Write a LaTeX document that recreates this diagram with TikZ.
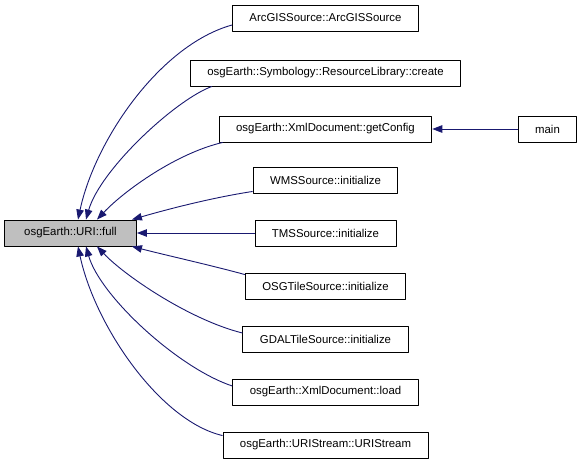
\documentclass[tikz,border=0pt]{standalone}
\usepackage{fontspec}
\setmainfont{Liberation Sans}
\usetikzlibrary{arrows.meta, calc}
\definecolor{edgeblue}{HTML}{191970}
\definecolor{hilite}{HTML}{BFBFBF}

\begin{document}
\begin{tikzpicture}[x=1pt, y=-1pt, line join=round,
  fnode/.style={draw=black, fill=white, line width=0.9pt, minimum height=26pt,
    inner xsep=17pt, inner ysep=0pt, font=\fontsize{11.4}{13}\selectfont},
  calls/.style={draw=edgeblue, line width=0.9pt, -{Triangle[length=10pt, width=7.5pt]}}]
  \useasboundingbox (0,0) rectangle (584,467);

  % Function under study
  \node[fnode, fill=hilite, minimum width=132pt] (full) at (70.5,233) {osgEarth::URI::full};

  % Callers, one column
  \node[fnode] (arcgis) at (325.5,18) {ArcGISSource::ArcGISSource};
  \node[fnode] (create) at (325.5,73) {osgEarth::Symbology::ResourceLibrary::create};
  \node[fnode] (getconfig) at (325.5,129) {osgEarth::XmlDocument::getConfig};
  \node[fnode] (wms) at (325.5,180) {WMSSource::initialize};
  \node[fnode] (tms) at (325.5,233) {TMSSource::initialize};
  \node[fnode] (osgtile) at (325.5,286) {OSGTileSource::initialize};
  \node[fnode] (gdaltile) at (325.5,339) {GDALTileSource::initialize};
  \node[fnode] (load) at (325.5,392) {osgEarth::XmlDocument::load};
  \node[fnode] (uristream) at (325.5,445) {osgEarth::URIStream::URIStream};
  \node[fnode] (main) at (547.5,129) {main};

  % Edge starts on the callers
  \coordinate (s1) at ($(arcgis.west)+(0,7)$);
  \coordinate (s2) at ($(create.south west)+(22,0)$);
  \coordinate (s3) at ($(getconfig.south west)+(4,0)$);
  \coordinate (s4) at ($(wms.south west)+(0,-2)$);
  \coordinate (s6) at ($(osgtile.north west)+(0,2)$);
  \coordinate (s7) at ($(gdaltile.west)+(0,-6)$);
  \coordinate (s8) at ($(load.west)+(0,-6)$);
  \coordinate (s9) at ($(uristream.north west)+(0,4)$);

  % Arrow ends on the called box
  \coordinate (t1) at ($(full.north)+(7.5,0)$);
  \coordinate (t2) at ($(full.north)+(15.5,0)$);
  \coordinate (t3) at ($(full.north)+(26.5,0)$);
  \coordinate (t4) at ($(full.north east)+(-5,0)$);
  \coordinate (t6) at ($(full.south east)+(-5,0)$);
  \coordinate (t7) at ($(full.south)+(26.5,0)$);
  \coordinate (t8) at ($(full.south)+(15.5,0)$);
  \coordinate (t9) at ($(full.south)+(7.5,0)$);

  % Call edges
  \draw[calls] (s1) .. controls (160,45) and (95,140) .. (t1);
  \draw[calls] (s2) .. controls (175,100) and (100,170) .. (t2);
  \draw[calls] (s3) .. controls (177,153) and (125,190) .. (t3);
  \draw[calls] (s4) .. controls (210,198) and (165,210) .. (t4);
  \draw[calls] (tms.west) -- (full.east);
  \draw[calls] (s6) .. controls (210,265) and (165,255) .. (t6);
  \draw[calls] (s7) .. controls (190,320) and (125,276) .. (t7);
  \draw[calls] (s8) .. controls (178,368) and (100,296) .. (t8);
  \draw[calls] (s9) .. controls (160,421) and (95,326) .. (t9);
  \draw[calls] (main.west) -- (getconfig.east);
\end{tikzpicture}
\end{document}
